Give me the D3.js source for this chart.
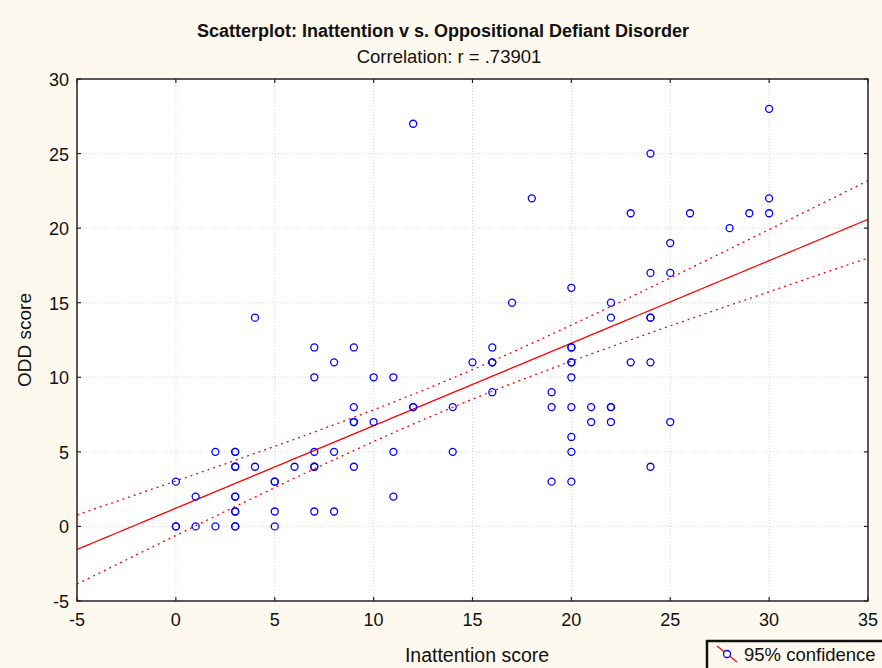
<!DOCTYPE html>
<html>
<head>
<meta charset="utf-8">
<script src="https://cdn.jsdelivr.net/npm/d3@7"></script>
<style>
  body { margin: 0; background: #fdf9ee; }
  svg { display: block; font-family: "Liberation Sans", Arial, sans-serif; }
</style>
</head>
<body>
<div id="chart"></div>
<script>
// Inattention score (x) and ODD score (y), one entry per subject
// (repeated pairs are overlapping subjects, visible as heavier rings)
var inattention = [0, 0, 0, 1, 1, 2, 2, 3, 3, 3, 3, 3, 3, 3, 3, 3, 3, 4, 4, 5, 5, 5, 5, 6,
    7, 7, 7, 7, 7, 7, 8, 8, 8, 9, 9, 9, 9, 9, 10, 10, 11, 11, 11, 12, 12, 12, 14, 14, 15,
    16, 16, 16, 16, 17, 18, 19, 19, 19, 20, 20, 20, 20, 20, 20, 20, 20, 20, 20, 21, 21,
    22, 22, 22, 22, 22, 23, 23, 24, 24, 24, 24, 24, 24, 25, 25, 25, 26, 28, 29, 30, 30, 30];
var odd = [3, 0, 0, 2, 0, 5, 0, 5, 5, 4, 4, 2, 2, 1, 1, 0, 0, 4, 14, 3, 3, 1, 0, 4,
    12, 10, 5, 4, 4, 1, 11, 5, 1, 12, 8, 7, 7, 4, 10, 7, 10, 5, 2, 27, 8, 8, 8, 5, 11,
    12, 11, 11, 9, 15, 22, 9, 8, 3, 16, 12, 12, 11, 11, 10, 8, 6, 5, 3, 8, 7,
    15, 14, 8, 8, 7, 21, 11, 25, 17, 14, 14, 11, 4, 19, 17, 7, 21, 20, 21, 28, 22, 21];

var xTicks = [-5, 0, 5, 10, 15, 20, 25, 30, 35];
var yTicks = [-5, 0, 5, 10, 15, 20, 25, 30];

var titleText = "Scatterplot: Inattention v s. Oppositional Defiant Disorder";
var subtitleText = "Correlation: r = .73901";

var width = 882, height = 668;
var margin = {top: 79, right: 14, bottom: 67, left: 77};

var svg = d3.select("#chart").append("svg")
    .attr("width", width)
    .attr("height", height);

var x = d3.scaleLinear().domain([-5, 35]).range([margin.left, width - margin.right]);
var y = d3.scaleLinear().domain([-5, 30]).range([height - margin.bottom, margin.top]);

var pts = inattention.map(function (d, i) { return {x: d, y: odd[i]}; });

// plot background
svg.append("rect")
    .attr("x", x(-5)).attr("y", y(30))
    .attr("width", x(35) - x(-5)).attr("height", y(-5) - y(30))
    .attr("fill", "#ffffff");

// grid
svg.append("g").selectAll("line").data(xTicks.slice(1, -1)).enter().append("line")
    .attr("x1", function (d) { return x(d); }).attr("x2", function (d) { return x(d); })
    .attr("y1", y(30)).attr("y2", y(-5))
    .attr("stroke", "#d4d4d4").attr("stroke-dasharray", "1,2");
svg.append("g").selectAll("line").data(yTicks.slice(1, -1)).enter().append("line")
    .attr("y1", function (d) { return y(d); }).attr("y2", function (d) { return y(d); })
    .attr("x1", x(-5)).attr("x2", x(35))
    .attr("stroke", "#d4d4d4").attr("stroke-dasharray", "1,2");

// regression + 95% confidence band
var n = pts.length;
var mx = d3.mean(pts, function (d) { return d.x; });
var my = d3.mean(pts, function (d) { return d.y; });
var sxx = d3.sum(pts, function (d) { return (d.x - mx) * (d.x - mx); });
var sxy = d3.sum(pts, function (d) { return (d.x - mx) * (d.y - my); });
var slope = sxy / sxx;
var icpt = my - slope * mx;
var sse = d3.sum(pts, function (d) { var e = d.y - (icpt + slope * d.x); return e * e; });
var se = Math.sqrt(sse / (n - 2));
var tval = 1.99;

var xs = d3.range(-5, 35.01, 0.5);
function band(sign) {
    return xs.map(function (v) {
        var fit = icpt + slope * v;
        var w = tval * se * Math.sqrt(1 / n + (v - mx) * (v - mx) / sxx);
        return [v, fit + sign * w];
    });
}
var line = d3.line().x(function (d) { return x(d[0]); }).y(function (d) { return y(d[1]); });

svg.append("clipPath").attr("id", "plotclip").append("rect")
    .attr("x", x(-5)).attr("y", y(30))
    .attr("width", x(35) - x(-5)).attr("height", y(-5) - y(30));

var fitG = svg.append("g").attr("clip-path", "url(#plotclip)");
fitG.append("path")
    .attr("d", line(xs.map(function (v) { return [v, icpt + slope * v]; })))
    .attr("fill", "none").attr("stroke", "#ff0000").attr("stroke-width", 1.3);
[1, -1].forEach(function (s) {
    fitG.append("path")
        .attr("d", line(band(s)))
        .attr("fill", "none").attr("stroke", "#ff0000").attr("stroke-width", 1.3)
        .attr("stroke-dasharray", "2,4");
});

// points
svg.append("g").selectAll("circle").data(pts).enter().append("circle")
    .attr("cx", function (d) { return x(d.x); })
    .attr("cy", function (d) { return y(d.y); })
    .attr("r", 3.5)
    .attr("fill", "none")
    .attr("stroke", "#0000ff")
    .attr("stroke-width", 1.3);

// frame
svg.append("rect")
    .attr("x", x(-5)).attr("y", y(30))
    .attr("width", x(35) - x(-5)).attr("height", y(-5) - y(30))
    .attr("fill", "none").attr("stroke", "#222").attr("stroke-width", 1.5);

// inward ticks on all four sides
var tk = svg.append("g").attr("stroke", "#222").attr("stroke-width", 1.2);
xTicks.forEach(function (d) {
    tk.append("line").attr("x1", x(d)).attr("x2", x(d)).attr("y1", y(-5)).attr("y2", y(-5) - 4);
    tk.append("line").attr("x1", x(d)).attr("x2", x(d)).attr("y1", y(30)).attr("y2", y(30) + 4);
});
yTicks.forEach(function (d) {
    tk.append("line").attr("y1", y(d)).attr("y2", y(d)).attr("x1", x(-5)).attr("x2", x(-5) + 4);
    tk.append("line").attr("y1", y(d)).attr("y2", y(d)).attr("x1", x(35)).attr("x2", x(35) - 4);
});

// tick labels
svg.append("g").selectAll("text").data(xTicks).enter().append("text")
    .attr("x", function (d) { return x(d); })
    .attr("y", y(-5) + 25)
    .attr("text-anchor", "middle")
    .attr("font-size", 18)
    .attr("fill", "#111")
    .text(function (d) { return d; });
svg.append("g").selectAll("text").data(yTicks).enter().append("text")
    .attr("x", x(-5) - 8)
    .attr("y", function (d) { return y(d) + 7; })
    .attr("text-anchor", "end")
    .attr("font-size", 18)
    .attr("fill", "#111")
    .text(function (d) { return d; });

// titles
svg.append("text")
    .attr("x", 443).attr("y", 37)
    .attr("text-anchor", "middle")
    .attr("font-size", 18).attr("font-weight", "bold")
    .attr("fill", "#111")
    .text(titleText);
svg.append("text")
    .attr("x", 449).attr("y", 63)
    .attr("text-anchor", "middle")
    .attr("font-size", 18.5)
    .attr("fill", "#111")
    .text(subtitleText);
svg.append("text")
    .attr("x", 477).attr("y", 662)
    .attr("text-anchor", "middle")
    .attr("font-size", 19.5)
    .attr("fill", "#111")
    .text("Inattention score");
svg.append("text")
    .attr("transform", "translate(31," + ((y(-5) + y(30)) / 2) + ") rotate(-90)")
    .attr("text-anchor", "middle")
    .attr("font-size", 19)
    .attr("fill", "#111")
    .text("ODD score");

// legend
var lg = svg.append("g").attr("transform", "translate(707,641)");
lg.append("rect").attr("x", 0).attr("y", 0).attr("width", 190).attr("height", 32)
    .attr("fill", "#fdf9ee").attr("stroke", "#111").attr("stroke-width", 2.5);
lg.append("line").attr("x1", 10).attr("y1", 5).attr("x2", 30).attr("y2", 21)
    .attr("stroke", "#ff0000").attr("stroke-width", 1.3);
lg.append("circle").attr("cx", 20).attr("cy", 13).attr("r", 3.5)
    .attr("fill", "#ffffff").attr("stroke", "#0000ff").attr("stroke-width", 1.3);
lg.append("text").attr("x", 37).attr("y", 20)
    .attr("font-size", 18.5).attr("fill", "#111")
    .text("95% confidence");
</script>
</body>
</html>
